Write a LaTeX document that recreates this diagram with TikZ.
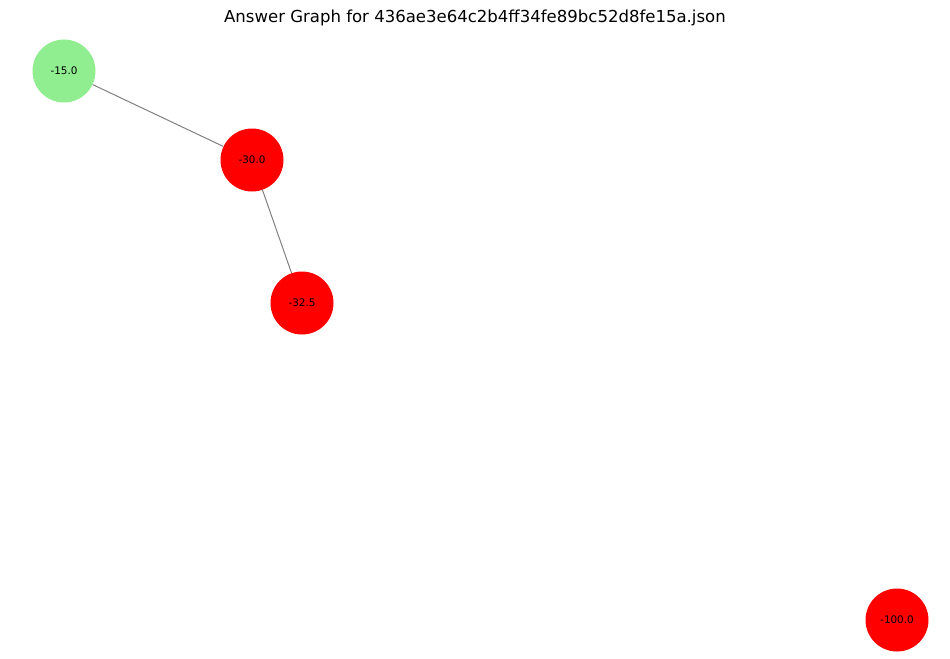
\documentclass[tikz,border=0pt]{standalone}
\usepackage{fontspec}
\setmainfont{DejaVu Sans}
\definecolor{nodegreen}{HTML}{90EE90}
\definecolor{edgegray}{HTML}{808080}
\begin{document}
\begin{tikzpicture}[x=0.75pt, y=-0.75pt,
    answer/.style={circle, draw=none, minimum size=47.25pt, inner sep=0pt, font=\fontsize{7.8}{9}\selectfont},
    link/.style={edgegray, line width=0.75pt}]
    % Canvas
    \useasboundingbox (0,0) rectangle (950,658);
    % Title
    \node (title) at (475,18) {\fontsize{12.4}{14}\selectfont Answer Graph for 436ae3e64c2b4ff34fe89bc52d8fe15a.json};
    % Nodes
    \node[answer, fill=nodegreen] (n15) at (64,71) {-15.0};
    \node[answer, fill=red] (n30) at (252,160) {-30.0};
    \node[answer, fill=red] (n325) at (302,303) {-32.5};
    \node[answer, fill=red] (n100) at (897,620) {-100.0};
    % Edges
    \draw[link] (n15) -- (n30);
    \draw[link] (n30) -- (n325);
\end{tikzpicture}
\end{document}
